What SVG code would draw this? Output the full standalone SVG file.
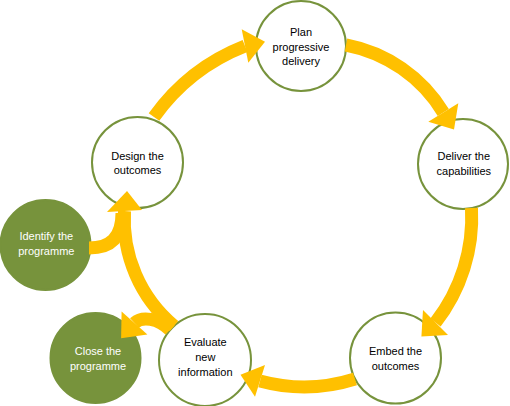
<svg xmlns="http://www.w3.org/2000/svg" width="510" height="406" viewBox="0 0 510 406">
<style>
.node{fill:#FFFFFF;stroke:#77933C;stroke-width:2}
.nodeg{fill:#77933C;stroke:#77933C;stroke-width:2}
.t{font-family:"Liberation Sans",Arial,sans-serif;font-size:11px;fill:#000000;text-anchor:middle}
.tw{font-family:"Liberation Sans",Arial,sans-serif;font-size:11px;fill:#FFFFFF;text-anchor:middle}
.body{fill:none;stroke:#FFC000;stroke-width:13}
.head{fill:#FFC000;stroke:none}
</style>
<rect x="0" y="0" width="510" height="406" fill="#FFFFFF"/>
<g id="plan"><circle class="node" cx="301" cy="46" r="45"/>
<text class="t" x="301" y="36">Plan</text><text class="t" x="301" y="50.7">progressive</text><text class="t" x="301" y="65.3">delivery</text></g>
<g id="deliver"><circle class="node" cx="463" cy="164" r="45"/>
<text class="t" x="463.8" y="160.3">Deliver the</text><text class="t" x="463.8" y="175.3">capabilities</text></g>
<g id="embed"><circle class="node" cx="395.5" cy="358" r="45.5"/>
<text class="t" x="395.5" y="354.7">Embed the</text><text class="t" x="395.5" y="369.7">outcomes</text></g>
<g id="evaluate"><circle class="node" cx="205" cy="360" r="46"/>
<text class="t" x="205.3" y="346.3">Evaluate</text><text class="t" x="205.3" y="361.3">new</text><text class="t" x="205.3" y="376.3">information</text></g>
<g id="design"><circle class="node" cx="137.5" cy="162.5" r="45.5"/>
<text class="t" x="137.5" y="159.5">Design the</text><text class="t" x="137.5" y="174">outcomes</text></g>
<g id="identify"><circle class="nodeg" cx="45.5" cy="245" r="45"/>
<text class="tw" x="46.3" y="239.7">Identify the</text><text class="tw" x="46.3" y="254.7">programme</text></g>
<g id="close"><circle class="nodeg" cx="95.5" cy="358" r="45"/>
<text class="tw" x="98" y="354.7">Close the</text><text class="tw" x="98" y="369.5">programme</text></g>
<g id="connectors">
<path class="body" d="M154,117 A203,203 0 0 1 245,46"/>
<polygon class="head" points="241.7,29.3 265,41.7 248.3,62.7"/>
<path class="body" d="M346,45 A146,146 0 0 1 443.3,112.5"/>
<polygon class="head" points="428.3,121.7 458.3,103.3 454,129.5"/>
<path class="body" d="M471.5,208 A171,171 0 0 1 435.5,322.5"/>
<polygon class="head" points="423,310 448,335 421.4,336.6"/>
<path class="body" d="M355,379 A169,169 0 0 1 260,381"/>
<polygon class="head" points="265,365 255,396.7 240.5,374.8"/>
<path class="body" d="M174,326 A139,139 0 0 1 124.5,211"/>
<polygon class="head" points="107,212 142,210 127,191"/>
<path class="body" d="M89,248 C110,248 122,238 122,213"/>
<path class="body" d="M170,330 C158,318 142,316 134.5,323"/>
<polygon class="head" points="121.6,311.6 147.4,334.4 121.1,338.2"/>
</g>
</svg>
